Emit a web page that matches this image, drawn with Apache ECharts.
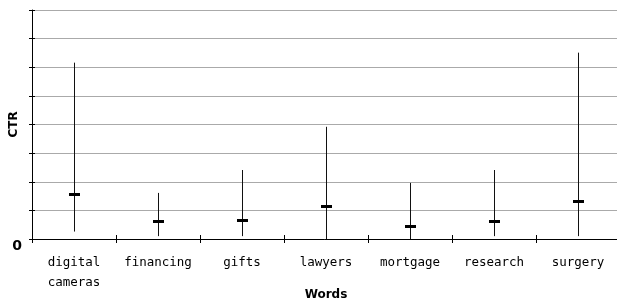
<!DOCTYPE html>
<html>
<head>
<meta charset="utf-8">
<script src="https://cdn.jsdelivr.net/npm/echarts@6/dist/echarts.min.js"></script>
<style>
  html, body { margin: 0; padding: 0; background: #fff; }
  #chart { width: 617px; height: 303px; }
</style>
</head>
<body>
<div id="chart"></div>
<script>
// data (CTR, arbitrary units)
const words = ['digital\ncameras', 'financing', 'gifts', 'lawyers', 'mortgage', 'research', 'surgery'];
const lowValues = [0.26, 0.10, 0.10, 0.0, 0.0, 0.10, 0.10];
const highValues = [6.16, 1.61, 2.41, 3.92, 1.96, 2.41, 6.51];
const meanValues = [1.56, 0.63, 0.66, 1.16, 0.47, 0.63, 1.32];
const yMax = 8;

const chart = echarts.init(document.getElementById('chart'));

const seriesData = words.map((w, i) => [i, lowValues[i], highValues[i], meanValues[i]]);

// draws a range line plus a short thick mark for the mean
function renderRange(params, api) {
    const i = api.value(0);
    const low = api.coord([i, api.value(1)]);
    const high = api.coord([i, api.value(2)]);
    const mean = api.coord([i, api.value(3)]);
    const x = Math.round(low[0]) + 0.5;
    return {
        type: 'group',
        children: [
            {
                type: 'line',
                shape: { x1: x, y1: low[1], x2: x, y2: high[1] },
                style: { stroke: '#111', lineWidth: 1 }
            },
            {
                type: 'rect',
                shape: { x: x - 5.5, y: Math.round(mean[1]) - 1, width: 11, height: 3 },
                style: { fill: '#000' }
            }
        ]
    };
}

const nameStyle = { fontFamily: 'DejaVu Sans', fontWeight: 'bold', fontSize: 12, color: '#000' };

chart.setOption({
    animation: false,
    backgroundColor: '#fff',
    grid: { left: 32, top: 10, width: 588, bottom: 64, containLabel: false, outerBoundsMode: 'none' },
    xAxis: [
        {
            type: 'category',
            data: words,
            position: 'bottom',
            name: 'Words',
            nameLocation: 'middle',
            nameGap: 50,
            nameMoveOverlap: false,
            nameTextStyle: nameStyle,
            axisLine: { lineStyle: { color: '#000', width: 1 } },
            axisTick: { show: true, length: 4, lineStyle: { color: '#000' } },
            axisLabel: {
                interval: 0,
                margin: 14,
                fontFamily: 'DejaVu Sans Mono',
                fontSize: 12.5,
                lineHeight: 20,
                color: '#000'
            },
            splitLine: { show: false }
        },
        {
            // inner half of the crossing ticks
            type: 'category',
            data: words,
            position: 'bottom',
            offset: 0,
            axisLine: { show: false },
            axisTick: { show: true, inside: true, length: 4, lineStyle: { color: '#000' } },
            axisLabel: { show: false },
            splitLine: { show: false }
        }
    ],
    yAxis: [
        {
            type: 'value',
            min: 0,
            max: yMax,
            interval: 1,
            name: 'CTR',
            nameLocation: 'middle',
            nameGap: 12,
            nameMoveOverlap: false,
            nameTextStyle: nameStyle,
            axisLine: { show: true, lineStyle: { color: '#000', width: 1 } },
            axisTick: { show: true, length: 3, lineStyle: { color: '#000' } },
            axisLabel: {
                margin: 10,
                fontFamily: 'DejaVu Sans',
                fontWeight: 'bold',
                fontSize: 14,
                color: '#000',
                verticalAlign: 'top',
                formatter: v => (v === 0 ? '0' : '')
            },
            splitLine: { show: true, lineStyle: { color: '#aaa', width: 1 } }
        },
        {
            type: 'value',
            min: 0,
            max: yMax,
            interval: 1,
            position: 'left',
            offset: 0,
            axisLine: { show: false },
            axisTick: { show: true, inside: true, length: 3, lineStyle: { color: '#000' } },
            axisLabel: { show: false },
            splitLine: { show: false }
        }
    ],
    series: [{
        type: 'custom',
        renderItem: renderRange,
        data: seriesData,
        encode: { x: 0, y: [1, 2, 3] },
        silent: true
    }]
});
</script>
</body>
</html>
